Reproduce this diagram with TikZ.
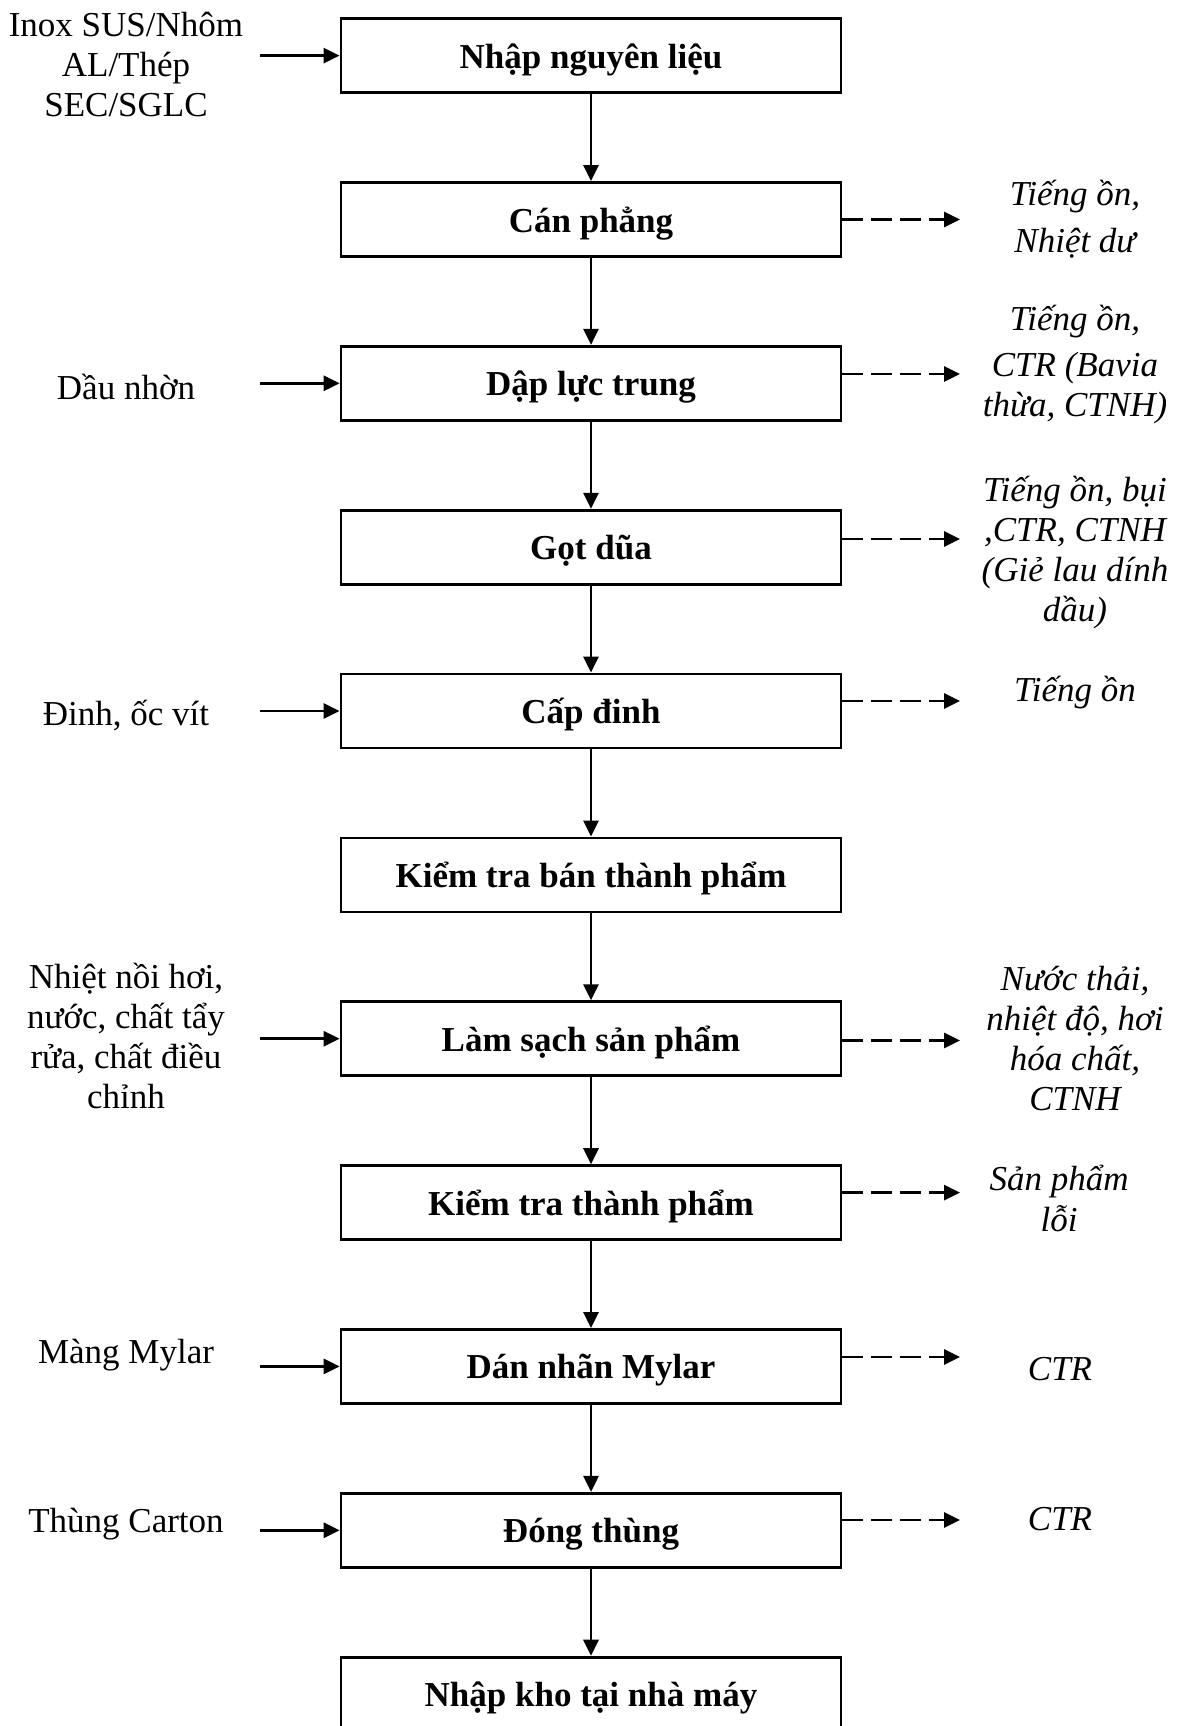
\documentclass[tikz,border=0pt]{standalone}
\usepackage{fontspec}
\setmainfont{Liberation Serif}
\usetikzlibrary{arrows.meta}
\begin{document}
\begin{tikzpicture}[x=1pt,y=-1pt,
  stage/.style={draw, line width=2.8pt, minimum width=500pt, minimum height=74pt,
    inner sep=0pt, text height=33pt, text depth=8pt,
    font=\fontsize{35}{40.2}\selectfont\bfseries},
  input/.style={align=center, inner sep=0pt, font=\fontsize{35}{40.2}\selectfont},
  output/.style={align=center, inner sep=0pt, font=\fontsize{35}{40.2}\selectfont\itshape},
  flow/.style={line width=2.8pt, -{Triangle[length=16pt,width=15pt]}},
  waste/.style={line width=2.8pt, dash pattern=on 21pt off 8pt,
    -{Triangle[length=16pt,width=15pt]}},
]
\useasboundingbox (0,0) rectangle (1176,1726);

% process steps
\node[stage] (s0)  at (591,55.6)   {Nhập nguyên liệu};
\node[stage] (s1)  at (591,219.5)  {Cán phẳng};
\node[stage] (s2)  at (591,383.3)  {Dập lực trung};
\node[stage] (s3)  at (591,547.2)  {Gọt dũa};
\node[stage] (s4)  at (591,711.0)  {Cấp đinh};
\node[stage] (s5)  at (591,874.9)  {Kiểm tra bán thành phẩm};
\node[stage] (s6)  at (591,1038.7) {Làm sạch sản phẩm};
\node[stage] (s7)  at (591,1202.6) {Kiểm tra thành phẩm};
\node[stage] (s8)  at (591,1366.4) {Dán nhãn Mylar};
\node[stage] (s9)  at (591,1530.3) {Đóng thùng};
\node[stage] (s10) at (591,1694.1) {Nhập kho tại nhà máy};

% main flow
\foreach \a/\b in {s0/s1,s1/s2,s2/s3,s3/s4,s4/s5,s5/s6,s6/s7,s7/s8,s8/s9,s9/s10}
  \draw[flow] (\a.south) -- (\b.north);

% inputs
\node[input] (in0) at (126,64.4)  {Inox SUS/Nhôm\\AL/Thép\\SEC/SGLC};
\node[input] (in2) at (126,386.5) {Dầu nhờn};
\node[input] (in4) at (126,716)   {Đinh, ốc vít};
\node[input] (in6) at (126,1036)  {Nhiệt nồi hơi,\\nước, chất tẩy\\rửa, chất điều\\chỉnh};
\node[input] (in8) at (126,1355.5) {Màng Mylar};
\node[input] (in9) at (126,1524)  {Thùng Carton};

\foreach \i in {0,2,4,6,8,9} {
  \coordinate (f\i) at (260,0);
  \draw[flow] (f\i |- s\i.west) -- (s\i.west);
}

% outputs and emissions
\node[output] (o1) at (1075,219.5) {Tiếng ồn,\\[7pt]Nhiệt dư};
\node[output] (o2) at (1075,364.5) {Tiếng ồn,\\[6pt]CTR (Bavia\\thừa, CTNH)};
\node[output] (o3) at (1075,552.5) {Tiếng ồn, bụi\\,CTR, CTNH\\(Giẻ lau dính\\dầu)};
\node[output] (o4) at (1075,693)   {Tiếng ồn};
\node[output] (o6) at (1075,1038.5) {Nước thải,\\nhiệt độ, hơi\\hóa chất,\\CTNH};
\node[output] (o7) at (1059,1198.5) {Sản phẩm\\lỗi};
\node[output] (o8) at (1060,1368.6) {CTR};
\node[output] (o9) at (1060,1519.5) {CTR};

\coordinate (w1) at (960,219.5);
\coordinate (w2) at (960,374);
\coordinate (w3) at (960,539);
\coordinate (w4) at (960,701);
\coordinate (w6) at (960,1040.5);
\coordinate (w7) at (960,1192.6);
\coordinate (w8) at (960,1357);
\coordinate (w9) at (960,1520);
\foreach \i in {1,2,3,4,6,7,8,9}
  \draw[waste] (s\i.east |- w\i) -- (w\i);
\end{tikzpicture}
\end{document}
